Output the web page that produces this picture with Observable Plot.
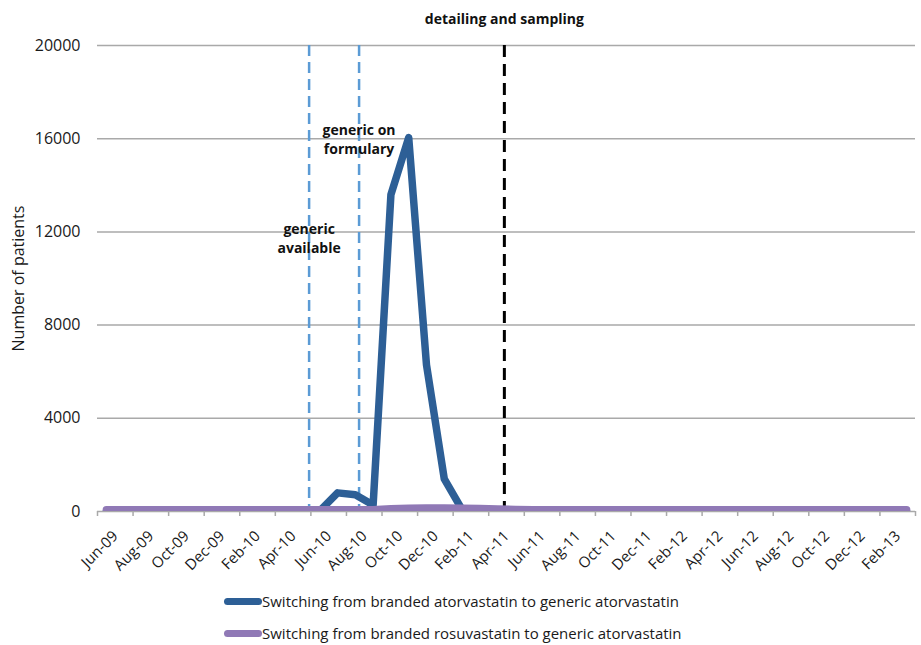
<!DOCTYPE html>
<html>
<head>
<meta charset="utf-8">
<script src="https://cdn.jsdelivr.net/npm/d3@7"></script>
<script src="https://cdn.jsdelivr.net/npm/@observablehq/plot@0.6"></script>
<style>
  html, body { margin: 0; padding: 0; background: #fff; }
  #chart { width: 921px; }
  #legend { position: relative; width: 921px; height: 60px; font-family: "Open Sans", sans-serif; font-size: 15px; color: #1a1a1a; }
  .row { position: absolute; left: 224px; height: 20px; display: flex; align-items: center; }
  .sw { width: 38px; height: 7px; border-radius: 4px; margin-right: 0px; }
</style>
</head>
<body>
<div id="chart"></div>
<div id="legend"></div>
<script>
// Months (category axis)
const months = [
  "Jun-09","Jul-09","Aug-09","Sep-09","Oct-09","Nov-09","Dec-09","Jan-10","Feb-10","Mar-10","Apr-10","May-10",
  "Jun-10","Jul-10","Aug-10","Sep-10","Oct-10","Nov-10","Dec-10","Jan-11","Feb-11","Mar-11","Apr-11","May-11",
  "Jun-11","Jul-11","Aug-11","Sep-11","Oct-11","Nov-11","Dec-11","Jan-12","Feb-12","Mar-12","Apr-12","May-12",
  "Jun-12","Jul-12","Aug-12","Sep-12","Oct-12","Nov-12","Dec-12","Jan-13","Feb-13","Mar-13"
];
// Switching from branded atorvastatin to generic atorvastatin
const atorvastatin = [
  0,0,0,0,0,0,0,0,0,0,0,0,
  30,800,720,280,13600,16050,6300,1400,80,0,0,0,
  0,0,0,0,0,0,0,0,0,0,0,0,
  0,0,0,0,0,0,0,0,0,0
];
// Switching from branded rosuvastatin to generic atorvastatin
const rosuvastatin = [
  70,70,70,70,70,70,70,70,70,70,70,70,
  70,70,70,80,120,140,150,150,140,130,110,90,
  75,70,70,70,70,70,70,70,70,70,70,70,
  70,70,70,70,70,70,70,70,70,70
];
const yTicks = [0, 4000, 8000, 12000, 16000, 20000];
// Events, as fractional month offsets from Jun-09
const genericEvents = [11.4, 14.21];
const detailingEvent = [22.38];
const seriesNames = [
  "Switching from branded atorvastatin to generic atorvastatin",
  "Switching from branded rosuvastatin to generic atorvastatin"
];
const colors = ["#2d5f96", "#9079b6"];

const rows = months.map((m, i) => ({i, month: m, ator: atorvastatin[i], rosu: rosuvastatin[i]}));
const labelRows = rows.filter(d => d.i % 2 === 0);
const boundaries = d3.range(-0.5, months.length, 2);

const chart = Plot.plot({
  width: 921,
  height: 585,
  marginLeft: 97,
  marginRight: 6,
  marginTop: 45,
  marginBottom: 74,
  x: {type: "linear", domain: [-0.5, months.length - 0.5]},
  y: {domain: [0, 20000]},
  style: {fontFamily: "Open Sans, sans-serif", background: "white", color: "#1a1a1a"},
  marks: [
    Plot.ruleY(yTicks, {stroke: "#a9a9a9", strokeWidth: 1.5}),
    Plot.axisX({ticks: boundaries, tickSize: 5, tickFormat: () => "", stroke: "#a9a9a9", strokeWidth: 1.5, label: null}),
    Plot.text(labelRows, {x: "i", frameAnchor: "bottom", text: "month", rotate: -45, textAnchor: "end", lineAnchor: "top", dx: 5, dy: 18, fontSize: 15, fill: "#1a1a1a"}),
    Plot.axisY({ticks: yTicks, tickSize: 0, tickPadding: 17, fontSize: 16, tickFormat: d3.format("d"), label: null}),
    Plot.text(["Number of patients"], {frameAnchor: "left", textAnchor: "middle", rotate: -90, dx: -79, fontSize: 16, fill: "#1a1a1a"}),
    Plot.ruleX(genericEvents, {stroke: "#5b9bd5", strokeWidth: 2.5, strokeDasharray: "11,6"}),
    Plot.ruleX(detailingEvent, {stroke: "#000", strokeWidth: 3, strokeDasharray: "12,7"}),
    Plot.lineY(rows, {x: "i", y: "ator", stroke: colors[0], strokeWidth: 7.5, strokeLinejoin: "round", strokeLinecap: "round", clip: true}),
    Plot.lineY(rows, {x: "i", y: "rosu", stroke: colors[1], strokeWidth: 7.5, strokeLinejoin: "round", strokeLinecap: "round", clip: true}),
    Plot.text(["generic\navailable"], {x: genericEvents[0], y: 11760, lineAnchor: "middle", lineHeight: 1.35, fontWeight: "bold", fontSize: 14, fill: "#111"}),
    Plot.text(["generic on\nformulary"], {x: genericEvents[1], y: 16000, lineAnchor: "middle", lineHeight: 1.35, fontWeight: "bold", fontSize: 14, fill: "#111"}),
    Plot.text(["detailing and sampling"], {x: detailingEvent[0], y: 20000, dy: -26, lineAnchor: "middle", fontWeight: "bold", fontSize: 14, fill: "#111"})
  ]
});
document.getElementById("chart").appendChild(chart);

const legend = document.getElementById("legend");
seriesNames.forEach((name, k) => {
  const row = document.createElement("div");
  row.className = "row";
  row.style.top = (k === 0 ? 6 : 38) + "px";
  const sw = document.createElement("div");
  sw.className = "sw";
  sw.style.background = colors[k];
  const tx = document.createElement("span");
  tx.textContent = name;
  row.appendChild(sw);
  row.appendChild(tx);
  legend.appendChild(row);
});
</script>
</body>
</html>
